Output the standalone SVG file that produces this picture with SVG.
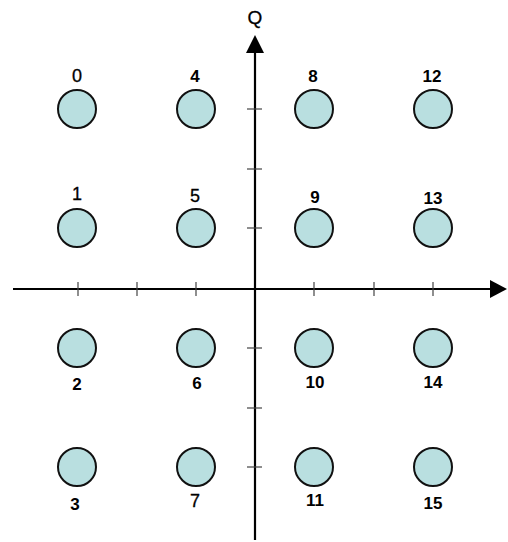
<svg xmlns="http://www.w3.org/2000/svg" width="508" height="542" viewBox="0 0 508 542">
<style>
.pt{fill:#b9dfe0;stroke:#111;stroke-width:2}
.ax{stroke:#000;stroke-width:2.2;fill:none}
.tk{stroke:#444;stroke-width:1.2}
text{font-family:"Liberation Sans",Arial,sans-serif;font-size:18px;fill:#000;text-anchor:middle;stroke:#000;stroke-width:0.3}
.b{font-weight:bold;font-size:17px;stroke:none}
</style>
<rect width="508" height="542" fill="#fff"/>
<g id="axes">
<line class="ax" x1="13" y1="289" x2="492" y2="289"/>
<polygon points="507,289 490,280 490,298" fill="#000"/>
<line class="ax" x1="255" y1="540" x2="255" y2="50"/>
<polygon points="255,35 246,53 264,53" fill="#000"/>
<g class="tk">
<line x1="78" y1="282" x2="78" y2="296"/><line x1="137" y1="282" x2="137" y2="296"/><line x1="196" y1="282" x2="196" y2="296"/>
<line x1="314" y1="282" x2="314" y2="296"/><line x1="374" y1="282" x2="374" y2="296"/><line x1="433" y1="282" x2="433" y2="296"/>
<line x1="247" y1="109" x2="262" y2="109"/><line x1="247" y1="169" x2="262" y2="169"/><line x1="247" y1="228" x2="262" y2="228"/>
<line x1="247" y1="348" x2="262" y2="348"/><line x1="247" y1="408" x2="262" y2="408"/><line x1="247" y1="467" x2="262" y2="467"/>
</g>
<text x="255" y="24" style="font-size:19px">Q</text>
</g>
<g id="n0"><circle class="pt" cx="77" cy="109" r="19"/><text x="77" y="82">0</text></g>
<g id="n4"><circle class="pt" cx="196" cy="109" r="19"/><text class="b" x="195" y="82">4</text></g>
<g id="n8"><circle class="pt" cx="314" cy="109" r="19"/><text class="b" x="313" y="82">8</text></g>
<g id="n12"><circle class="pt" cx="433" cy="109" r="19"/><text class="b" x="432" y="82">12</text></g>
<g id="n1"><circle class="pt" cx="77" cy="228" r="19"/><text x="77" y="200">1</text></g>
<g id="n5"><circle class="pt" cx="196" cy="228" r="19"/><text x="195" y="202">5</text></g>
<g id="n9"><circle class="pt" cx="314" cy="228" r="19"/><text class="b" x="315" y="203">9</text></g>
<g id="n13"><circle class="pt" cx="433" cy="228" r="19"/><text class="b" x="433" y="204">13</text></g>
<g id="n2"><circle class="pt" cx="77" cy="348" r="19"/><text class="b" x="77" y="390">2</text></g>
<g id="n6"><circle class="pt" cx="196" cy="348" r="19"/><text class="b" x="197" y="389">6</text></g>
<g id="n10"><circle class="pt" cx="314" cy="348" r="19"/><text class="b" x="315" y="388">10</text></g>
<g id="n14"><circle class="pt" cx="433" cy="348" r="19"/><text class="b" x="433" y="388">14</text></g>
<g id="n3"><circle class="pt" cx="77" cy="467" r="19"/><text class="b" x="75" y="510">3</text></g>
<g id="n7"><circle class="pt" cx="196" cy="467" r="19"/><text x="195" y="507">7</text></g>
<g id="n11"><circle class="pt" cx="314" cy="467" r="19"/><text class="b" x="315" y="506">11</text></g>
<g id="n15"><circle class="pt" cx="433" cy="467" r="19"/><text class="b" x="433" y="509">15</text></g>
</svg>
